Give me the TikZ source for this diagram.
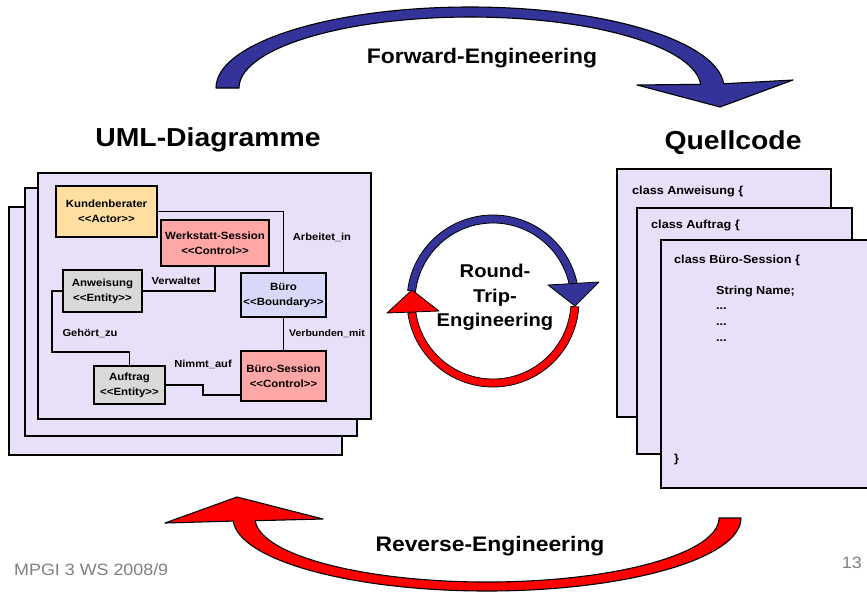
\documentclass[tikz,border=0pt]{standalone}
\usepackage{fontspec}
\setmainfont{Liberation Sans}[FakeStretch=1.09]
\definecolor{pagefill}{HTML}{E8E0F8}
\definecolor{actorfill}{HTML}{FFDF9F}
\definecolor{ctrlfill}{HTML}{FFA6A6}
\definecolor{entityfill}{HTML}{D9D9D9}
\definecolor{boundfill}{HTML}{D8D8F8}
\definecolor{fwdblue}{HTML}{333399}
\definecolor{revred}{HTML}{FF0000}
\definecolor{footgray}{HTML}{808080}
\begin{document}
\begin{tikzpicture}[x=1pt,y=-1pt,
  page/.style={draw=black, line width=2.6pt, fill=pagefill},
  umlbox/.style={draw=black, line width=1.8pt, align=center, inner sep=0pt,
    font=\bfseries\fontsize{10.5}{15}\selectfont},
  assoc/.style={draw=black, line width=1.3pt},
  rel/.style={inner sep=0pt, font=\bfseries\fontsize{10.2}{12}\selectfont},
  code/.style={anchor=west, inner sep=0pt, font=\bfseries\fontsize{11.6}{14}\selectfont},
  title/.style={inner sep=0pt, font=\bfseries\fontsize{26}{30}\selectfont},
  eng/.style={inner sep=0pt, font=\bfseries\fontsize{21}{25}\selectfont},
  rt/.style={inner sep=0pt, align=center, font=\bfseries\fontsize{18.5}{24.5}\selectfont},
  foot/.style={inner sep=0pt, text=footgray, font=\fontsize{16.4}{19}\selectfont},
  band/.style={draw=black, line width=1.1pt, line join=round},
  ring/.style={draw=black, line width=0.8pt, line join=round}]
\useasboundingbox (0,0) rectangle (867,595);
\clip (0,0) rectangle (867,595);

% stack of UML sheets
\draw[page] (9,207) rectangle (342,455);
\draw[page] (25,188) rectangle (357,436);
\draw[page] (38,173) rectangle (371,419);

% stack of source files
\draw[page] (617,169) rectangle (831,417);
\draw[page] (637,208) rectangle (852,454);
\draw[page] (661,240) rectangle (880,488);

% classes of the UML diagram
\node[umlbox, fill=actorfill, minimum width=101pt, minimum height=51pt] (kb) at (106.5,211.5) {Kundenberater\\<{}<Actor>{}>};
\node[umlbox, fill=ctrlfill, minimum width=108pt, minimum height=46pt] (ws) at (215,243) {Werkstatt-Session\\<{}<Control>{}>};
\node[umlbox, fill=entityfill, minimum width=79pt, minimum height=42pt] (anw) at (102.5,291) {Anweisung\\<{}<Entity>{}>};
\node[umlbox, fill=boundfill, minimum width=85pt, minimum height=44pt] (buero) at (283.5,295) {Büro\\<{}<Boundary>{}>};
\node[umlbox, fill=entityfill, minimum width=71pt, minimum height=38pt] (auf) at (129.5,385) {Auftrag\\<{}<Entity>{}>};
\node[umlbox, fill=ctrlfill, minimum width=85pt, minimum height=50pt] (bs) at (283.5,376) {Büro-Session\\<{}<Control>{}>};

% associations
\draw[assoc] (kb.east) -| (buero.north);
\draw[assoc] (ws.south) |- (anw.east);
\draw[assoc] (anw.west) -- ++(-10,0) |- ([yshift=13pt]auf.north) -- (auf.north);
\draw[assoc] (buero.south) -- (bs.north);
\draw[assoc] (auf.east) -- ++(37,0) |- ([yshift=-19pt]bs.west);

% association names
\node[rel] (lai) at (322,237) {Arbeitet\_in};
\node[rel] (lvw) at (176,281) {Verwaltet};
\node[rel] (lgz) at (90,333) {Gehört\_zu};
\node[rel, font=\bfseries\fontsize{9.6}{12}\selectfont] (lvm) at (327,334) {Verbunden\_mit};
\node[rel] (lna) at (203,364) {Nimmt\_auf};

% source code
\node[code] (c1) at (632,192) {class Anweisung \{};
\node[code] (c2) at (651,226) {class Auftrag \{};
\node[code] (c3) at (674,260) {class Büro-Session \{};
\node[code] (c4) at (716,292) {String Name;};
\node[code] (c5) at (716,309) {...};
\node[code] (c6) at (716,325) {...};
\node[code] (c7) at (716,341) {...};
\node[code] (c8) at (674,459) {\}};

% headings
\node[title] (uml) at (208,140) {UML-Diagramme};
\node[title] (qc) at (733,143) {Quellcode};

% forward engineering arrow
\filldraw[band, fill=fwdblue] (216,88) arc[start angle=180, end angle=357, x radius=254, y radius=81]
  -- (793,80) -- (720,107) -- (637,85) -- (700.7,84.3)
  arc[start angle=357, end angle=180, x radius=231, y radius=71] -- cycle;
\node[eng] (fwd) at (482,58) {Forward-Engineering};

% reverse engineering arrow
\filldraw[band, fill=revred] (741,518) arc[start angle=0, end angle=177.6, x radius=254, y radius=73]
  -- (165,523) -- (237,497) -- (323,519) -- (255.2,520.7)
  arc[start angle=177.6, end angle=0, x radius=232, y radius=64] -- cycle;
\node[eng] (rev) at (490,546) {Reverse-Engineering};

% round trip cycle
\begin{scope}[shift={(493,301)}]
  \filldraw[ring, fill=fwdblue] (187:86) arc[start angle=187, end angle=348, radius=86]
    -- (348:78) arc[start angle=348, end angle=187, radius=78] -- cycle;
  \filldraw[ring, fill=revred] (4:86) arc[start angle=4, end angle=172, radius=86]
    -- (172:78) arc[start angle=172, end angle=4, radius=78] -- cycle;
\end{scope}
\filldraw[ring, fill=fwdblue] (548,285) -- (599,282) -- (575,306) -- cycle;
\filldraw[ring, fill=revred] (387,313) -- (439,311) -- (412,290) -- cycle;
\node[rt] (rtl) at (495,297.5) {Round-\\Trip-\\Engineering};

% footer
\node[foot, anchor=west] (src) at (14,570) {MPGI 3 WS 2008/9};
\node[foot, anchor=east] (pg) at (862,563) {13};
\end{tikzpicture}
\end{document}
